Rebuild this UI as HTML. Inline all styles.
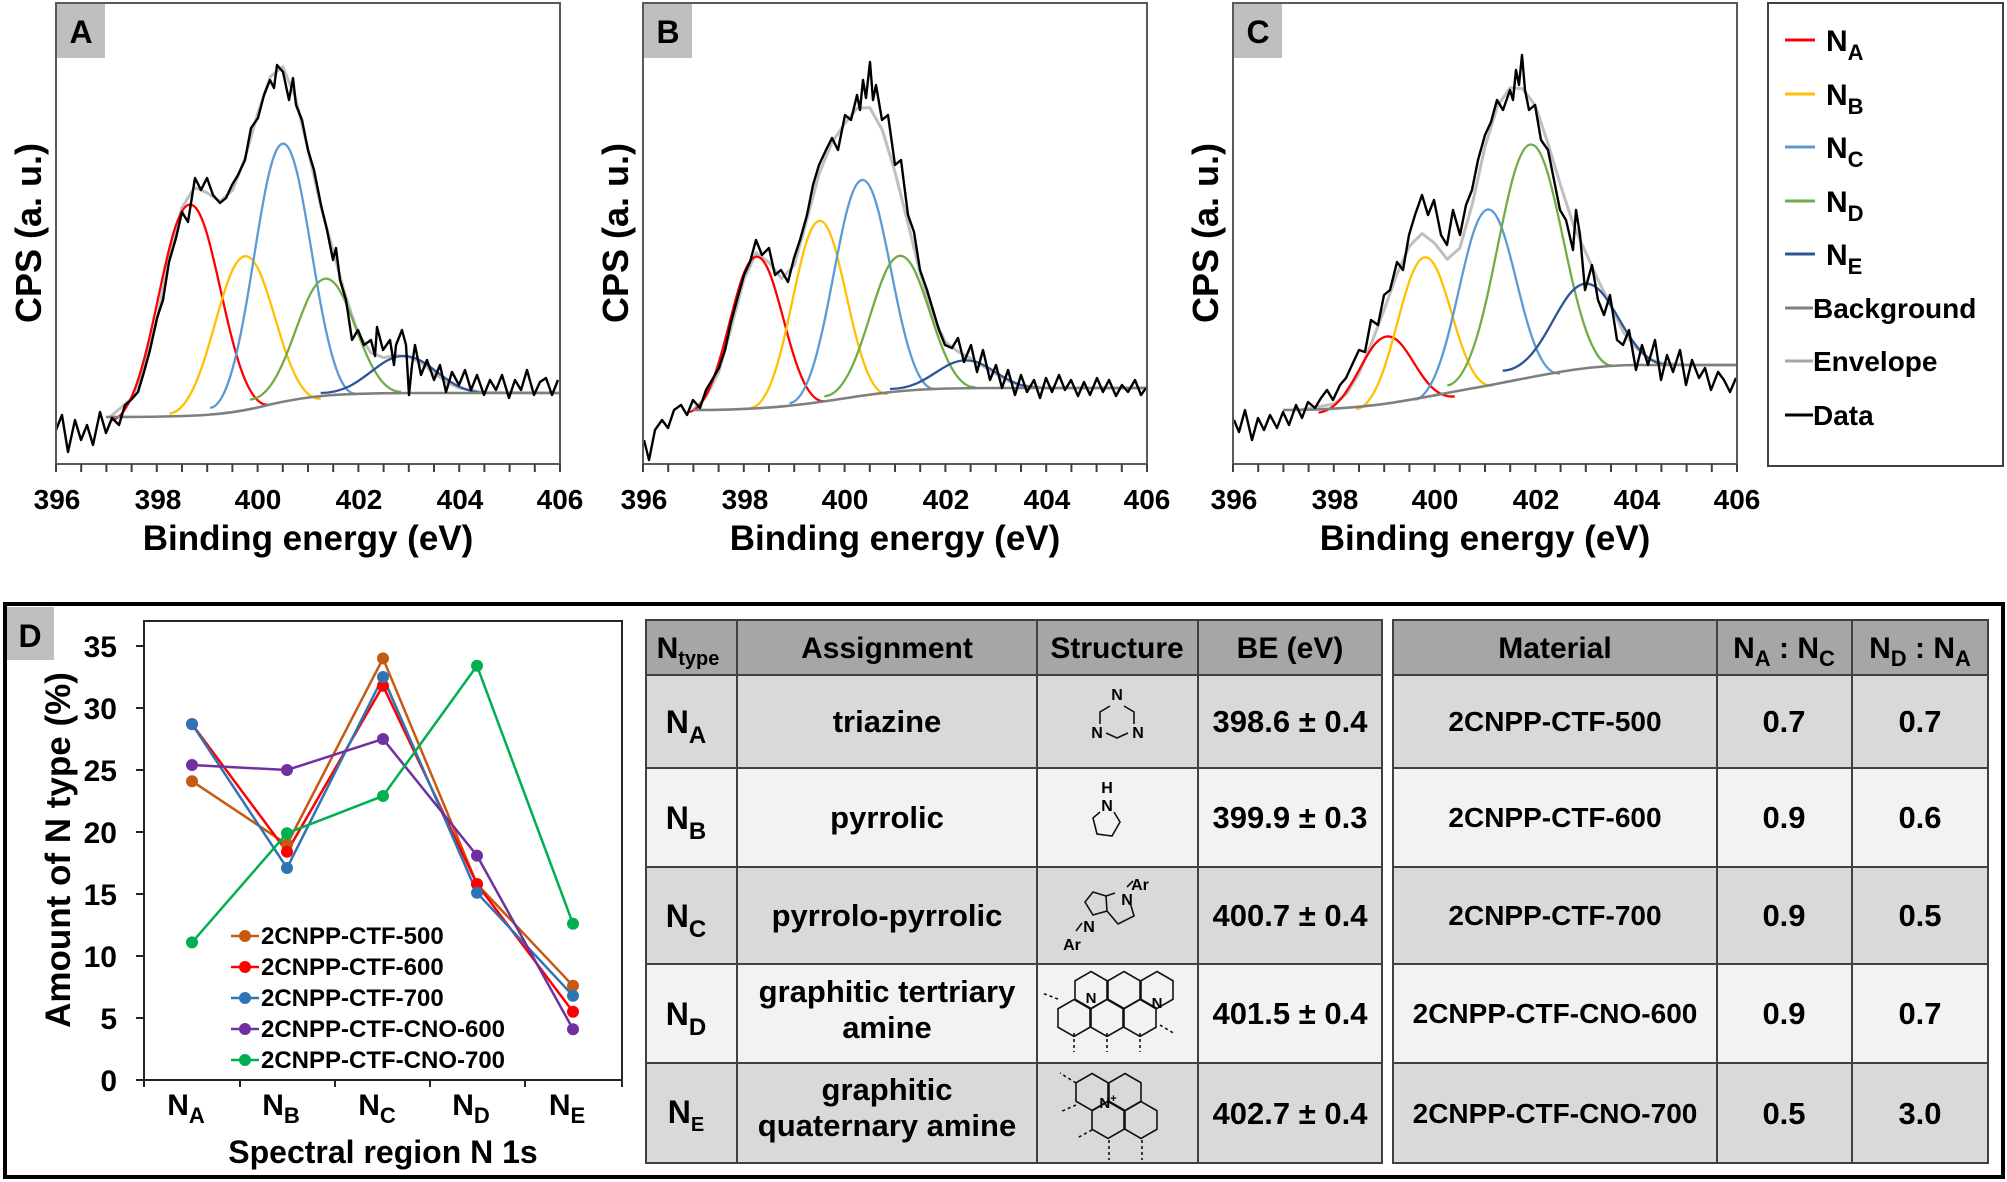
<!DOCTYPE html>
<html><head><meta charset="utf-8"><style>
html,body{margin:0;padding:0;background:#fff;}
svg{display:block;font-family:"Liberation Sans",Arial,sans-serif;font-weight:bold;}
</style></head><body>
<svg width="2007" height="1182" viewBox="0 0 2007 1182" xmlns="http://www.w3.org/2000/svg">
<defs>
<polygon id="hx" points="0,-18.5 16,-9.25 16,9.25 0,18.5 -16,9.25 -16,-9.25" fill="none" stroke="#111" stroke-width="1.6"/>
<path id="tk" d="M56,464v8M81.2,464v8M106.4,464v8M131.6,464v8M156.8,464v8M182,464v8M207.2,464v8M232.4,464v8M257.6,464v8M282.8,464v8M308,464v8M333.2,464v8M358.4,464v8M383.6,464v8M408.8,464v8M434,464v8M459.2,464v8M484.4,464v8M509.6,464v8M534.8,464v8M560,464v8" stroke="#404040" stroke-width="2"/>
</defs>
<rect width="2007" height="1182" fill="#fff"/>

<!-- envelopes -->
<g fill="none" stroke="#bfbfbf" stroke-width="3" stroke-linejoin="round">
<polyline points="110,417 131.6,398.5 144.2,369 156.8,320.8 169.4,257.6 182,207.4 194.6,187.6 207.2,192.8 219.8,201.6 232.4,190.4 245,158.2 257.6,114 270.2,76.8 282.8,66.7 295.4,97.2 308,149.8 320.6,205.6 333.2,251.4 345.8,296.8 358.4,334.2 371,352.9 383.6,357.6 396.2,355.3 408.8,357 421.4,363 434,373 446.6,382 459.2,388 484.4,392.5 560,393"/>
<polyline points="693,410 706,396.7 718.6,372.3 731.2,327.7 743.8,279.8 756.4,252.7 769,262.6 781.6,278.5 794.2,265.4 806.8,220.1 819.4,172.8 832,142.4 844.6,123.9 857.2,108.2 869.8,107.6 882.4,130.3 895,172 907.6,221.9 920.2,272.8 932.8,316.3 945.4,341.9 958,351.6 970.6,358.4 983.2,366.2 995.8,374 1008.4,381 1021,385.5 1046.2,388 1147,388"/>
<polyline points="1300,410 1333.8,404 1346.4,394 1359,373.3 1371.6,343 1384.2,309.6 1396.8,274.4 1409.4,246.1 1422,233.6 1434.6,243.2 1447.2,259.2 1459.8,248.1 1472.4,203.8 1485,146.6 1497.6,105.7 1510.2,87.8 1522.8,88.8 1535.4,105.9 1548,143.6 1560.6,185.4 1573.2,224.1 1585.8,252.7 1598.4,280.8 1611,305.9 1623.6,332.5 1636.2,348 1648.8,359 1661.4,363 1686.6,365 1737,365"/>
</g>
<!-- components -->
<g fill="none" stroke-width="2.3">
<path vector-effect="non-scaling-stroke" stroke="#ff0000" transform="matrix(26.2,-2.6,0,208,189.6,412.5)" d="M-3,0 C-1.5,0 -1,-1 0,-1 C1,-1 1.5,0 3,0"/>
<path vector-effect="non-scaling-stroke" stroke="#ffc000" transform="matrix(25.2,-2.5,0,150,245,406.2)" d="M-3,0 C-1.5,0 -1,-1 0,-1 C1,-1 1.5,0 3,0"/>
<path vector-effect="non-scaling-stroke" stroke="#5b9bd5" transform="matrix(24.2,-2.4,0,257,282.8,400.7)" d="M-3,0 C-1.5,0 -1,-1 0,-1 C1,-1 1.5,0 3,0"/>
<path vector-effect="non-scaling-stroke" stroke="#70ad47" transform="matrix(25.2,-1.3,0,117,325.6,395.6)" d="M-3,0 C-1.5,0 -1,-1 0,-1 C1,-1 1.5,0 3,0"/>
<path vector-effect="non-scaling-stroke" stroke="#2f5597" transform="matrix(27.7,0,0,37,403.8,393)" d="M-3,0 C-1.5,0 -1,-1 0,-1 C1,-1 1.5,0 3,0"/>

<path vector-effect="non-scaling-stroke" stroke="#ff0000" transform="matrix(22.7,-1.8,0,150,756.4,406.7)" d="M-3,0 C-1.5,0 -1,-1 0,-1 C1,-1 1.5,0 3,0"/>
<path vector-effect="non-scaling-stroke" stroke="#ffc000" transform="matrix(22.7,-2.3,0,180,819.4,400.8)" d="M-3,0 C-1.5,0 -1,-1 0,-1 C1,-1 1.5,0 3,0"/>
<path vector-effect="non-scaling-stroke" stroke="#5b9bd5" transform="matrix(24.2,-2.4,0,216,862.2,396)" d="M-3,0 C-1.5,0 -1,-1 0,-1 C1,-1 1.5,0 3,0"/>
<path vector-effect="non-scaling-stroke" stroke="#70ad47" transform="matrix(25.2,-1.5,0,136,900,391.8)" d="M-3,0 C-1.5,0 -1,-1 0,-1 C1,-1 1.5,0 3,0"/>
<path vector-effect="non-scaling-stroke" stroke="#2f5597" transform="matrix(25.2,-0.2,0,28,965.6,388.4)" d="M-3,0 C-1.5,0 -1,-1 0,-1 C1,-1 1.5,0 3,0"/>

<path vector-effect="non-scaling-stroke" stroke="#ff0000" transform="matrix(22.7,-2.7,0,68,1386.7,404.5)" d="M-3,0 C-1.5,0 -1,-1 0,-1 C1,-1 1.5,0 3,0"/>
<path vector-effect="non-scaling-stroke" stroke="#ffc000" transform="matrix(22.7,-4,0,140,1424.5,397.4)" d="M-3,0 C-1.5,0 -1,-1 0,-1 C1,-1 1.5,0 3,0"/>
<path vector-effect="non-scaling-stroke" stroke="#5b9bd5" transform="matrix(24.2,-4.4,0,177,1487.5,386.5)" d="M-3,0 C-1.5,0 -1,-1 0,-1 C1,-1 1.5,0 3,0"/>
<path vector-effect="non-scaling-stroke" stroke="#70ad47" transform="matrix(27.7,-3.3,0,231,1530.4,375.5)" d="M-3,0 C-1.5,0 -1,-1 0,-1 C1,-1 1.5,0 3,0"/>
<path vector-effect="non-scaling-stroke" stroke="#2f5597" transform="matrix(27.7,-1,0,84,1585.8,367.7)" d="M-3,0 C-1.5,0 -1,-1 0,-1 C1,-1 1.5,0 3,0"/>
</g>
<!-- backgrounds -->
<g fill="none" stroke="#7f7f7f" stroke-width="2.6">
<path d="M106,417 C200,417 230,415 268,405 C310,395 340,393 420,393 L560,393"/>
<path d="M693,410 C780,410 820,402 860,396 C900,390 930,388 1000,388 L1147,388"/>
<path d="M1283,410 C1380,410 1420,397 1480,387 C1540,376 1580,365 1640,365 L1737,365"/>
</g>
<!-- data -->
<g fill="none" stroke="#000" stroke-width="2.4" stroke-linejoin="round">
<polyline points="56,430 62,415 68,452 75,420 81,440 87,425 93,445 100,412 106,433 112,418 119,425 125,405 131,400 138,392 144,372 150,350 157,318 163,300 169,262 176,238 182,212 188,222 195,178 201,190 207,178 213,195 220,203 226,198 232,185 238,175 245,160 251,128 258,118 264,95 270,80 274,88 277,65 283,72 289,100 293,78 296,105 302,120 308,150 314,170 321,205 327,230 333,260 336,248 340,280 346,300 352,340 358,330 364,345 371,340 375,356 377,327 383,350 390,340 394,365 396,345 402,330 406,345 409,395 412,365 415,345 421,375 427,360 434,380 440,365 446,392 452,372 459,385 465,370 471,390 477,375 484,395 490,380 496,390 502,375 509,398 515,380 521,390 527,370 534,395 540,382 546,378 552,395 558,380"/>
<polyline points="644,440 649,460 655,430 662,420 668,428 674,410 681,405 687,415 693,400 700,408 706,390 712,380 719,368 725,350 731,322 737,300 744,275 750,262 756,240 762,255 769,248 775,275 781,270 788,282 794,258 800,240 807,215 813,185 819,165 826,150 832,138 838,150 845,115 851,120 857,95 860,110 863,80 866,98 870,62 873,100 876,85 882,120 888,115 895,165 901,160 908,215 914,232 920,270 927,290 933,310 939,330 945,345 952,348 958,338 964,362 971,345 977,372 983,350 990,380 996,365 1002,388 1008,370 1015,395 1021,375 1027,392 1034,380 1040,398 1046,378 1052,392 1059,375 1065,390 1071,380 1078,396 1084,382 1090,395 1097,378 1103,392 1109,380 1116,396 1122,385 1128,392 1135,380 1141,395 1146,388"/>
<polyline points="1234,420 1239,432 1245,410 1252,440 1258,418 1264,430 1270,415 1277,428 1283,412 1289,425 1296,405 1302,418 1308,402 1315,408 1321,398 1327,390 1333,400 1340,385 1346,378 1352,365 1359,350 1365,352 1371,320 1378,325 1384,295 1390,290 1397,262 1403,270 1409,235 1415,215 1422,195 1428,215 1434,200 1441,235 1447,245 1453,210 1460,235 1466,205 1472,190 1478,160 1485,135 1491,122 1497,100 1503,110 1510,90 1513,100 1516,70 1519,85 1522,55 1525,90 1529,110 1535,105 1541,140 1548,150 1554,180 1560,210 1566,220 1573,250 1576,210 1580,235 1585,290 1592,265 1598,300 1604,315 1610,295 1617,340 1623,345 1629,330 1636,370 1642,345 1648,365 1655,340 1661,380 1667,355 1673,372 1680,350 1686,385 1692,360 1699,378 1705,368 1711,390 1718,372 1724,380 1730,392 1736,378"/>
</g>

<!-- panel frames -->
<g fill="none" stroke="#595959" stroke-width="2">
<rect x="56" y="3" width="504" height="461"/>
<rect x="643" y="3" width="504" height="461"/>
<rect x="1233" y="3" width="504" height="461"/>
</g>
<use href="#tk"/>
<use href="#tk" x="587"/>
<use href="#tk" x="1177"/>
<rect x="57" y="4" width="48" height="54" fill="#bfbfbf"/>
<rect x="644" y="4" width="48" height="54" fill="#bfbfbf"/>
<rect x="1234" y="4" width="48" height="54" fill="#bfbfbf"/>
<text x="81" y="43" font-size="32" text-anchor="middle">A</text>
<text x="668" y="43" font-size="32" text-anchor="middle">B</text>
<text x="1258" y="43" font-size="32" text-anchor="middle">C</text>

<g font-size="28" text-anchor="middle">
<text x="57" y="509">396</text><text x="158" y="509">398</text><text x="258" y="509">400</text><text x="359" y="509">402</text><text x="460" y="509">404</text><text x="560" y="509">406</text>
<text x="644" y="509">396</text><text x="745" y="509">398</text><text x="845" y="509">400</text><text x="946" y="509">402</text><text x="1047" y="509">404</text><text x="1147" y="509">406</text>
<text x="1234" y="509">396</text><text x="1335" y="509">398</text><text x="1435" y="509">400</text><text x="1536" y="509">402</text><text x="1637" y="509">404</text><text x="1737" y="509">406</text>
</g>
<g font-size="35" text-anchor="middle">
<text x="308" y="550">Binding energy (eV)</text>
<text x="895" y="550">Binding energy (eV)</text>
<text x="1485" y="550">Binding energy (eV)</text>
</g>
<g font-size="36" text-anchor="middle">
<text transform="translate(41,233) rotate(-90)">CPS (a. u.)</text>
<text transform="translate(628,233) rotate(-90)">CPS (a. u.)</text>
<text transform="translate(1218,233) rotate(-90)">CPS (a. u.)</text>
</g>

<!-- legend top -->
<rect x="1768" y="3" width="235" height="463" fill="none" stroke="#404040" stroke-width="2"/>
<g stroke-width="3">
<line x1="1785" y1="40" x2="1815" y2="40" stroke="#ff0000"/>
<line x1="1785" y1="94" x2="1815" y2="94" stroke="#ffc000"/>
<line x1="1785" y1="147" x2="1815" y2="147" stroke="#5b9bd5"/>
<line x1="1785" y1="201" x2="1815" y2="201" stroke="#70ad47"/>
<line x1="1785" y1="254" x2="1815" y2="254" stroke="#2f5597"/>
<line x1="1785" y1="308" x2="1813" y2="308" stroke="#7f7f7f"/>
<line x1="1785" y1="361" x2="1813" y2="361" stroke="#a6a6a6"/>
<line x1="1785" y1="415" x2="1813" y2="415" stroke="#000"/>
</g>
<g font-size="30">
<text x="1826" y="51">N<tspan font-size="22" dy="9">A</tspan></text>
<text x="1826" y="105">N<tspan font-size="22" dy="9">B</tspan></text>
<text x="1826" y="158">N<tspan font-size="22" dy="9">C</tspan></text>
<text x="1826" y="212">N<tspan font-size="22" dy="9">D</tspan></text>
<text x="1826" y="265">N<tspan font-size="22" dy="9">E</tspan></text>
</g>
<g font-size="28">
<text x="1813" y="318">Background</text>
<text x="1813" y="371">Envelope</text>
<text x="1813" y="425">Data</text>
</g>

<!-- panel D -->
<rect x="5" y="604" width="1998" height="573" fill="none" stroke="#000" stroke-width="4"/>
<rect x="7" y="607" width="47" height="53" fill="#bfbfbf"/>
<text x="30" y="647" font-size="32" text-anchor="middle">D</text>
<rect x="144" y="621" width="478" height="459" fill="none" stroke="#262626" stroke-width="2"/>
<path stroke="#262626" stroke-width="2" d="M136,646h8M136,708h8M136,770h8M136,832h8M136,894h8M136,956h8M136,1018h8M136,1080h8M144,1080v7M240,1080v7M335,1080v7M430,1080v7M525,1080v7M622,1080v7"/>
<g font-size="30" text-anchor="end">
<text x="117" y="657">35</text><text x="117" y="719">30</text><text x="117" y="781">25</text><text x="117" y="843">20</text><text x="117" y="905">15</text><text x="117" y="967">10</text><text x="117" y="1029">5</text><text x="117" y="1091">0</text>
</g>
<text transform="translate(70,850) rotate(-90)" font-size="35" text-anchor="middle">Amount of N type (%)</text>
<g font-size="30" text-anchor="middle">
<text x="186" y="1115">N<tspan font-size="22" dy="8">A</tspan></text>
<text x="281" y="1115">N<tspan font-size="22" dy="8">B</tspan></text>
<text x="377" y="1115">N<tspan font-size="22" dy="8">C</tspan></text>
<text x="471" y="1115">N<tspan font-size="22" dy="8">D</tspan></text>
<text x="567" y="1115">N<tspan font-size="22" dy="8">E</tspan></text>
</g>
<text x="383" y="1163" font-size="32" text-anchor="middle">Spectral region N 1s</text>

<g fill="none" stroke-width="2.5">
<polyline stroke="#c55a11" points="192,781.2 287,844.4 383,658.4 477,884.1 573,985.8"/>
<polyline stroke="#ff0000" points="192,724.1 287,851.8 383,685.7 477,884.1 573,1011.8"/>
<polyline stroke="#2e75b6" points="192,724.1 287,868 383,677 477,892.8 573,995.7"/>
<polyline stroke="#7030a0" points="192,765 287,770 383,739 477,855.6 573,1029.2"/>
<polyline stroke="#00b050" points="192,942.4 287,833.2 383,796 477,665.8 573,923.8"/>
<line x1="231" y1="936" x2="259" y2="936" stroke="#c55a11"/>
<line x1="231" y1="967" x2="259" y2="967" stroke="#ff0000"/>
<line x1="231" y1="998" x2="259" y2="998" stroke="#2e75b6"/>
<line x1="231" y1="1029" x2="259" y2="1029" stroke="#7030a0"/>
<line x1="231" y1="1060" x2="259" y2="1060" stroke="#00b050"/>
</g>
<g fill="#c55a11"><circle cx="192" cy="781.2" r="6"/><circle cx="287" cy="844.4" r="6"/><circle cx="383" cy="658.4" r="6"/><circle cx="477" cy="884.1" r="6"/><circle cx="573" cy="985.8" r="6"/><circle cx="245" cy="936" r="6"/></g>
<g fill="#ff0000"><circle cx="192" cy="724.1" r="6"/><circle cx="287" cy="851.8" r="6"/><circle cx="383" cy="685.7" r="6"/><circle cx="477" cy="884.1" r="6"/><circle cx="573" cy="1011.8" r="6"/><circle cx="245" cy="967" r="6"/></g>
<g fill="#2e75b6"><circle cx="192" cy="724.1" r="6"/><circle cx="287" cy="868" r="6"/><circle cx="383" cy="677" r="6"/><circle cx="477" cy="892.8" r="6"/><circle cx="573" cy="995.7" r="6"/><circle cx="245" cy="998" r="6"/></g>
<g fill="#7030a0"><circle cx="192" cy="765" r="6"/><circle cx="287" cy="770" r="6"/><circle cx="383" cy="739" r="6"/><circle cx="477" cy="855.6" r="6"/><circle cx="573" cy="1029.2" r="6"/><circle cx="245" cy="1029" r="6"/></g>
<g fill="#00b050"><circle cx="192" cy="942.4" r="6"/><circle cx="287" cy="833.2" r="6"/><circle cx="383" cy="796" r="6"/><circle cx="477" cy="665.8" r="6"/><circle cx="573" cy="923.8" r="6"/><circle cx="245" cy="1060" r="6"/></g>
<g font-size="24">
<text x="261" y="944">2CNPP-CTF-500</text>
<text x="261" y="975">2CNPP-CTF-600</text>
<text x="261" y="1006">2CNPP-CTF-700</text>
<text x="261" y="1037">2CNPP-CTF-CNO-600</text>
<text x="261" y="1068">2CNPP-CTF-CNO-700</text>
</g>

<!-- tables -->
<g stroke="#404040" stroke-width="2">
<rect x="646" y="620" width="736" height="55" fill="#a6a6a6"/>
<rect x="646" y="675" width="736" height="93" fill="#d9d9d9"/>
<rect x="646" y="768" width="736" height="99" fill="#f2f2f2"/>
<rect x="646" y="867" width="736" height="97" fill="#d9d9d9"/>
<rect x="646" y="964" width="736" height="99" fill="#f2f2f2"/>
<rect x="646" y="1063" width="736" height="100" fill="#d9d9d9"/>
<line x1="737" y1="620" x2="737" y2="1163"/><line x1="1037" y1="620" x2="1037" y2="1163"/><line x1="1198" y1="620" x2="1198" y2="1163"/>
<rect x="1393" y="620" width="595" height="55" fill="#a6a6a6"/>
<rect x="1393" y="675" width="595" height="93" fill="#d9d9d9"/>
<rect x="1393" y="768" width="595" height="99" fill="#f2f2f2"/>
<rect x="1393" y="867" width="595" height="97" fill="#d9d9d9"/>
<rect x="1393" y="964" width="595" height="99" fill="#f2f2f2"/>
<rect x="1393" y="1063" width="595" height="100" fill="#d9d9d9"/>
<line x1="1717" y1="620" x2="1717" y2="1163"/><line x1="1852" y1="620" x2="1852" y2="1163"/>
</g>
<g font-size="30" text-anchor="middle">
<text x="688" y="658">N<tspan font-size="20" dy="7">type</tspan></text>
<text x="887" y="658">Assignment</text>
<text x="1117" y="658">Structure</text>
<text x="1290" y="658">BE (eV)</text>
<text x="1555" y="658">Material</text>
<text x="1784" y="658">N<tspan font-size="22" dy="8">A</tspan><tspan dy="-8"> : N</tspan><tspan font-size="22" dy="8">C</tspan></text>
<text x="1920" y="658">N<tspan font-size="22" dy="8">D</tspan><tspan dy="-8"> : N</tspan><tspan font-size="22" dy="8">A</tspan></text>
</g>
<g font-size="32" text-anchor="middle">
<text x="686" y="733">N<tspan font-size="24" dy="10">A</tspan></text>
<text x="686" y="829">N<tspan font-size="24" dy="10">B</tspan></text>
<text x="686" y="927">N<tspan font-size="24" dy="10">C</tspan></text>
<text x="686" y="1025">N<tspan font-size="24" dy="10">D</tspan></text>
<text x="686" y="1123">N<tspan font-size="20" dy="8">E</tspan></text>
</g>
<g font-size="31" text-anchor="middle">
<text x="887" y="732">triazine</text>
<text x="887" y="828">pyrrolic</text>
<text x="887" y="926">pyrrolo-pyrrolic</text>
<text x="887" y="1002">graphitic tertriary</text>
<text x="887" y="1038">amine</text>
<text x="887" y="1100">graphitic</text>
<text x="887" y="1136">quaternary amine</text>
<text x="1290" y="732">398.6 ± 0.4</text>
<text x="1290" y="828">399.9 ± 0.3</text>
<text x="1290" y="926">400.7 ± 0.4</text>
<text x="1290" y="1024">401.5 ± 0.4</text>
<text x="1290" y="1124">402.7 ± 0.4</text>
</g>
<g font-size="28" text-anchor="middle">
<text x="1555" y="731">2CNPP-CTF-500</text>
<text x="1555" y="827">2CNPP-CTF-600</text>
<text x="1555" y="925">2CNPP-CTF-700</text>
<text x="1555" y="1023">2CNPP-CTF-CNO-600</text>
<text x="1555" y="1123">2CNPP-CTF-CNO-700</text>
</g>
<g font-size="31" text-anchor="middle">
<text x="1784" y="732">0.7</text><text x="1920" y="732">0.7</text>
<text x="1784" y="828">0.9</text><text x="1920" y="828">0.6</text>
<text x="1784" y="926">0.9</text><text x="1920" y="926">0.5</text>
<text x="1784" y="1024">0.9</text><text x="1920" y="1024">0.7</text>
<text x="1784" y="1124">0.5</text><text x="1920" y="1124">3.0</text>
</g>

<!-- structures -->
<g fill="none" stroke="#111" stroke-width="1.6">
<path d="M1110,706 L1100,712 L1100,724 M1124,706 L1134,712 L1134,724 M1106,733 L1117,738 L1128,733"/>
<path d="M1100,812 L1093,818 L1097,834 L1112,836 L1120,822 L1114,812"/>
<path d="M1085,902 L1093,892 L1106,896 L1107,911 L1093,915 Z M1107,911 L1118,924 L1134,916 L1130,902 M1106,896 L1115,893 M1082,923 L1076,931 M1127,887 L1133,881"/>
<path stroke-dasharray="3,3" d="M1058,999 L1042,993 M1074,1033 L1074,1052 M1107,1033 L1107,1052 M1140,1033 L1140,1052 M1160,1025 L1175,1034 M1076,1083 L1060,1073 M1076,1105 L1060,1112 M1092,1130 L1077,1138 M1109,1140 L1109,1160 M1142,1140 L1142,1160"/>
</g>
<use href="#hx" x="1091" y="990"/><use href="#hx" x="1124" y="990"/><use href="#hx" x="1157" y="990"/>
<use href="#hx" x="1074" y="1018"/><use href="#hx" x="1107" y="1018"/><use href="#hx" x="1140" y="1018"/>
<use href="#hx" x="1092" y="1092"/><use href="#hx" x="1125" y="1092"/>
<use href="#hx" x="1108" y="1120"/><use href="#hx" x="1141" y="1120"/>
<g font-size="16" text-anchor="middle">
<text x="1117" y="700">N</text>
<text x="1097" y="738">N</text><text x="1138" y="738">N</text>
<text x="1107" y="793">H</text><text x="1107" y="811">N</text>
<text x="1140" y="890">Ar</text><text x="1127" y="905">N</text>
<text x="1089" y="932">N</text><text x="1072" y="950">Ar</text>
<text x="1091" y="1003" font-size="15">N</text><text x="1157" y="1008" font-size="15">N</text>
<text x="1108" y="1108" font-size="15">N<tspan font-size="11" dy="-6">+</tspan></text>
</g>
</svg>
</body></html>
